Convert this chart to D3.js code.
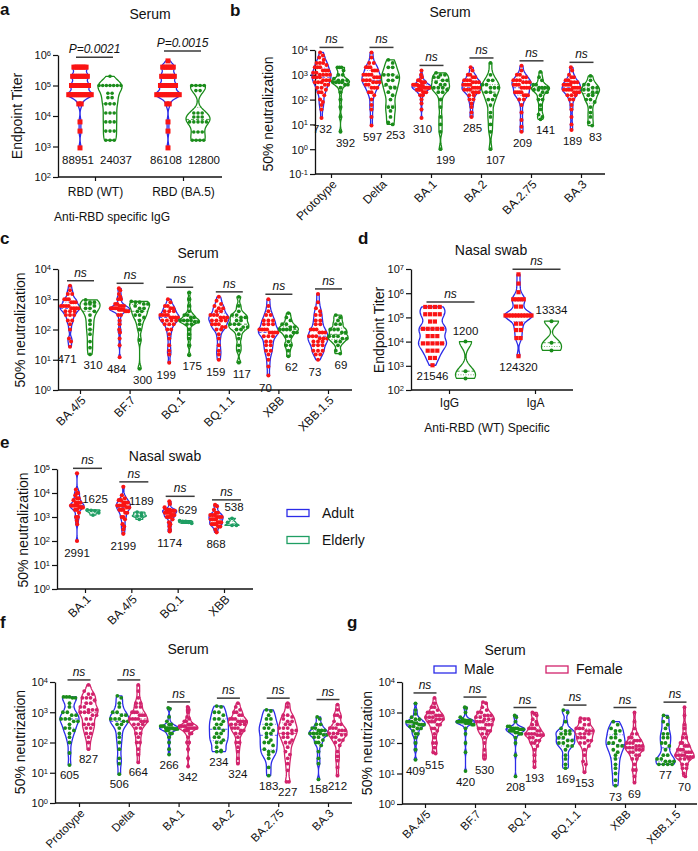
<!DOCTYPE html>
<html><head><meta charset="utf-8">
<script src="https://cdn.jsdelivr.net/npm/d3@7"></script>
<style>
body{margin:0;background:#fff}
svg{display:block}
text{font-family:Arial,"Liberation Sans",Helvetica,sans-serif;fill:#111}
</style>
</head><body>
<svg id="chart" width="698" height="851"></svg>
<script>
// ---------------- DATA ----------------
// Panel a: serum anti-RBD IgG endpoint titers
const aCats = ["RBD (WT)", "RBD (BA.5)"];
const aAdult = [
  [400000,400000,400000,400000,400000,400000,400000,200000,200000,200000,200000,200000,200000,200000,200000,100000,100000,100000,100000,100000,100000,100000,100000,100000,50000,50000,50000,50000,50000,50000,50000,50000,50000,50000,50000,50000,25000,25000,6400,3200,900],
  [640000,400000,400000,400000,400000,400000,400000,200000,200000,200000,200000,200000,200000,200000,100000,100000,100000,100000,100000,100000,100000,100000,50000,50000,50000,50000,50000,50000,50000,50000,50000,50000,50000,50000,25000,25000,6400,3200,900]
];
const aElderly = [
  [200000,100000,100000,100000,100000,100000,100000,100000,56000,56000,40000,40000,25000,25000,25000,12500,12500,12500,6400,6400,6400,3200,3200,3200,1600,1600,1600],
  [100000,100000,100000,100000,68000,68000,12500,12500,12500,9300,9300,9300,6400,6400,6400,6400,6400,3000,3000,3000,1600,1600,1600,1600]
];
const aLabels = [["88951","24037"],["86108","12800"]];
const aSig = ["P=0.0021","P=0.0015"];

// Panel b: serum 50% neutralization, adult vs elderly
const bCats = ["Prototype","Delta","BA.1","BA.2","BA.2.75","BA.3"];
const bAdult = [
  [8000,6000,5000,4000,3000,3000,3000,2500,2000,2000,2000,1500,1500,1500,1200,1200,1000,1000,1000,1000,800,800,800,600,600,600,500,500,500,400,400,300,300,250,200,200,150,100,80,60,40,18],
  [8000,5000,3000,3000,2000,2000,2000,1500,1500,1500,1000,1000,1000,1000,800,800,800,600,600,600,500,500,500,400,400,300,300,300,200,200,150,100,60,40,20,9],
  [1500,1000,800,600,600,500,500,500,400,400,400,400,350,350,350,350,300,300,300,300,300,250,250,250,250,200,200,200,150,150,100,70,40,18],
  [2000,1500,1000,1000,800,800,600,600,600,500,500,500,400,400,400,400,300,300,300,300,250,250,250,200,200,200,150,150,100,100,70,50,30,20],
  [2300,1500,1000,1000,800,800,600,600,600,500,500,500,400,400,400,300,300,300,300,200,200,200,200,150,150,150,100,100,60,30,15,8,5],
  [2000,1500,1000,800,800,600,600,500,500,500,400,400,400,400,300,300,300,300,250,250,250,250,200,200,200,150,150,150,100,100,60,40,20,10,6]
];
const bElderly = [
  [2000,2000,2000,1500,1000,1000,700,600,600,600,500,500,500,500,400,400,300,200,100,50,20,5],
  [4000,3000,2000,2000,1000,1000,1000,800,600,600,400,300,300,200,150,100,50,50,35,20,12,10],
  [1200,1000,1000,800,800,600,600,500,400,400,300,300,300,250,200,200,100,50,20,10,5,1],
  [3000,1000,600,600,400,400,300,300,300,200,200,150,100,100,60,30,20,10,5,1],
  [1300,800,600,400,400,300,300,300,300,250,250,200,200,150,100,100,60,40,25,20,16],
  [900,600,400,400,300,300,250,250,200,200,150,150,100,100,80,50,30,20,12,9]
];
const bLabels = [["732","392"],["597","253"],["310","199"],["285","107"],["209","141"],["189","83"]];

// Panel c
const cCats = ["BA.4/5","BF.7","BQ.1","BQ.1.1","XBB","XBB.1.5"];
const cAdult = [
  [2800,2000,1500,1500,1000,1000,1000,800,800,800,600,600,600,600,500,500,500,500,400,400,400,300,300,300,200,200,150,100,50,40,27],
  [2300,2000,1500,1200,1000,1000,700,700,600,600,600,500,500,500,500,500,450,450,450,450,400,400,400,300,300,200,150,100,80,50,30,12],
  [1000,800,600,600,500,500,400,400,400,300,300,300,300,250,250,250,250,200,200,200,200,150,150,150,100,100,70,50,30,20,15,8],
  [1200,900,700,600,500,500,400,400,300,300,300,250,250,250,200,200,200,200,150,150,150,120,120,100,100,70,50,30,20,15,10],
  [1000,600,400,300,300,200,200,200,150,150,150,100,100,100,100,80,80,80,80,60,60,60,40,40,30,30,20,20,15,10,6,3],
  [1500,800,500,400,300,300,200,200,150,150,100,100,100,80,80,80,60,60,60,50,50,50,40,40,40,30,30,30,20,20,20,15,15,10]
];
const cElderly = [
  [950,800,800,700,700,600,500,500,400,300,200,150,100,70,40,25,15],
  [850,800,800,700,700,600,500,500,400,400,300,300,250,200,150,100,45,5],
  [1700,1000,600,400,300,300,250,250,200,200,200,200,180,180,150,150,100,70,50,30,14],
  [1200,600,400,300,300,250,250,200,200,150,150,150,120,120,100,100,70,50,30,20,8],
  [350,250,200,150,150,120,120,100,100,100,100,80,80,60,60,40,30,30,20,13],
  [300,250,200,150,150,100,100,100,80,80,60,60,60,50,50,40,40,30,20,16]
];
const cLabels = [["471","310"],["484","300"],["199","175"],["159","117"],["70","62"],["73","69"]];

// Panel d: nasal swab anti-RBD endpoint titers
const dCats = ["IgG","IgA"];
const dAdult = [
  [270000,270000,270000,270000,135000,135000,135000,135000,67500,67500,33750,33750,33750,33750,33750,16875,16875,16875,8437,8437,8437,8437,8437,4218,4218,4218,2109,2109,1054],
  [6000000,2500000,1100000,560000,560000,560000,560000,280000,280000,120000,120000,120000,120000,120000,120000,120000,120000,120000,120000,55000,55000,30000,30000,14000,14000,2500]
];
const dElderly = [[10000,600,300],[70000,9000,4300]];
const dLabels = [["21546","1200"],["124320","13334"]];

// Panel e: nasal swab neutralization
const eCats = ["BA.1","BA.4/5","BQ.1","XBB"];
const eAdult = [
  [66000,14000,10000,10000,8000,6000,6000,5000,4000,4000,4000,3000,3000,3000,3000,3000,2500,2500,2500,2000,2000,1500,1000,1000,700,500,100],
  [18000,8000,6000,5000,5000,4000,4000,4000,3000,3000,3000,3000,2500,2500,2000,2000,2000,1500,1500,1000,1000,800,500,400,300,200],
  [4500,3500,2500,2000,2000,2000,1800,1800,1800,1500,1500,1500,1500,1200,1200,1200,1000,1000,1000,800,600,500,400,300,250],
  [3200,2800,2000,1500,1500,1200,1200,1200,1000,1000,1000,800,800,800,800,600,600,600,500,500,500,400,400,300,230]
];
const eElderly = [[2000,1900,1800,1500,1200],[1600,1400,1100,1100,800],[700,650,650,600,550],[880,600,450,450]];
const eLabels = [["2991","1625"],["2199","1189"],["1174","629"],["868","538"]];
const eLegend = ["Adult","Elderly"];

// Panel f: serum, male vs female
const fCats = ["Prototype","Delta","BA.1","BA.2","BA.2.75","BA.3"];
const fMale = [
  [3200,3200,3200,3000,3000,2000,1500,1000,1000,800,800,600,600,600,500,500,400,300,300,250,200,150,100,45,18],
  [3500,3000,2000,1500,1000,1000,800,800,600,600,600,500,500,400,400,300,200,150,100,60,30,20,9],
  [1400,1300,700,500,400,400,350,350,350,300,300,300,300,300,280,280,280,250,250,200,200,150,100,60,40],
  [1600,1500,1000,1000,800,600,600,500,400,400,300,300,250,200,200,150,150,120,100,100,70,55,50,50],
  [1200,1100,800,600,600,400,400,300,300,250,200,200,150,120,100,100,80,60,50,50,40,30,15,8],
  [700,600,400,400,300,300,250,250,250,200,200,200,200,180,180,150,150,120,100,100,80,50,30,20,6]
];
const fFemale = [
  [8000,5000,4000,4000,3000,3000,3000,2500,2000,2000,1500,1500,1200,1200,1200,1000,1000,1000,800,800,600,600,400,400,400,300,300,200,200,150,100,60],
  [8000,5000,3000,2000,2000,1500,1500,1000,1000,1000,800,800,800,600,600,600,600,500,500,500,400,400,400,300,300,200,200,150,100,100,60,40,22],
  [1500,1200,1000,700,600,500,500,400,400,400,350,350,350,350,300,300,300,300,300,300,250,250,250,200,200,150,100,100,60,30,16],
  [2000,1500,1200,1000,1000,800,800,600,600,600,500,500,500,500,400,400,400,400,300,300,300,250,250,200,200,150,100,100,70,50,30,20],
  [2000,1500,800,800,700,600,500,500,400,400,300,300,300,250,250,200,200,200,150,150,120,100,100,70,50,40,30,20,12,5,5],
  [1800,1200,800,800,700,500,400,400,300,300,300,250,250,250,200,200,200,180,180,150,150,120,120,100,80,50,35,25,15,8]
];
const fLabels = [["605","827"],["506","664"],["266","342"],["234","324"],["183","227"],["158","212"]];

// Panel g
const gCats = ["BA.4/5","BF.7","BQ.1","BQ.1.1","XBB","XBB.1.5"];
const gMale = [
  [2000,1200,900,700,600,600,500,500,500,450,450,400,400,400,350,350,300,300,250,200,200,150,100,60,28],
  [1500,1400,1000,700,600,550,550,550,500,500,500,500,500,450,450,450,450,400,400,300,200,100,50,12],
  [800,700,500,350,350,300,300,300,300,280,280,280,250,250,250,220,220,200,200,150,100,40,8],
  [1200,1000,500,300,250,250,200,200,200,150,150,120,120,100,100,80,80,60,40,30,20,15],
  [500,400,300,250,250,200,150,150,120,100,100,80,80,60,50,40,30,20,15,10,6,4],
  [800,700,500,400,300,200,200,150,150,100,100,80,60,40,40,30,30,25,25,25,20,20,20,20]
];
const gFemale = [
  [3000,2000,1500,1500,1200,1000,1000,1000,800,800,800,700,700,700,600,600,600,500,500,500,400,400,300,300,250,200,150,100,100,70,50,45],
  [2200,2000,1500,1200,1000,1000,800,800,800,700,700,600,600,600,500,500,500,400,400,400,300,300,300,250,250,200,200,150,100,60,40,30],
  [1000,900,800,600,500,400,400,300,300,300,250,250,200,200,200,200,180,180,180,150,150,120,120,100,100,80,60,40,25,16],
  [650,600,600,500,400,400,300,300,300,250,250,250,200,200,200,150,150,150,120,120,100,100,80,60,40,25,20,11],
  [1000,500,300,200,200,150,150,120,120,120,100,100,100,80,80,80,70,70,70,60,60,60,50,50,40,40,30,30,20,13,13,8,5],
  [1500,800,400,300,200,150,150,100,100,80,80,80,60,60,60,50,50,50,40,40,40,40,35,35,35,30,30,30,20,20,15,15,10,8]
];
const gLabels = [["409","515"],["420","530"],["208","193"],["169","153"],["73","69"],["77","70"]];
const gLegend = ["Male","Female"];

// ---------------- STYLE ----------------
const BLUE = "#2b2be8", RED = "#fa1414", GREEN = "#1a8c1a", MAG = "#d2236c", TEAL = "#1f9e63", BAR = "#3a3a3a";
const svg = d3.select("#chart");

function kde(L, h) {
  return v => d3.sum(L, l => Math.exp(-0.5 * ((v - l) / h) ** 2));
}

function drawViolin(g, vals, cx, y, s) {
  const L = vals.map(Math.log10);
  const sorted = L.slice().sort(d3.ascending);
  const lo = sorted[0], hi = sorted[sorted.length - 1];
  const n = L.length;
  const sd = d3.deviation(L) || 0.2;
  const iqr = d3.quantile(sorted, 0.75) - d3.quantile(sorted, 0.25);
  let h = 0.9 * Math.min(sd, iqr > 0 ? iqr / 1.34 : sd) * Math.pow(n, -0.2) * s.bw;
  h = Math.max(h, s.bwMin);
  const f = kde(L, h);
  const N = 80;
  const grid = d3.range(N + 1).map(i => lo + (hi - lo) * i / N);
  const dens = grid.map(f);
  const mx = d3.max(dens);
  const wAt = v => f(v) / mx * s.hw;
  const area = d3.area()
    .y(d => y(10 ** d))
    .x0(d => cx - wAt(d))
    .x1(d => cx + wAt(d))
    .curve(d3.curveLinear);
  g.append("path").attr("d", area(grid) + "Z")
    .attr("fill", "none").attr("stroke", s.stroke).attr("stroke-width", 1.3)
    .attr("stroke-linejoin", "round");
  // median & quartiles
  const med = d3.quantile(sorted, 0.5), q1 = d3.quantile(sorted, 0.25), q3 = d3.quantile(sorted, 0.75);
  [[med, "3,2", 1], [q1, "1,1.5", 0.8], [q3, "1,1.5", 0.8]].forEach(([q, da, sw]) => {
    const w = wAt(q);
    g.append("line").attr("x1", cx - w).attr("x2", cx + w).attr("y1", y(10 ** q)).attr("y2", y(10 ** q))
      .attr("stroke", s.stroke).attr("stroke-width", sw).attr("stroke-dasharray", da).attr("opacity", 0.8);
  });
  // points: group by pixel row, spread within violin width
  const items = vals.map(v => ({ v, py: y(v) })).sort((a, b) => a.py - b.py);
  const groups = [];
  items.forEach(it => {
    const last = groups[groups.length - 1];
    if (last && it.py - last[0].py < s.r * 1.7) last.push(it); else groups.push([it]);
  });
  const r = s.r;
  groups.forEach(gr => {
    const m = gr.length;
    const my = d3.mean(gr, d => d.py);
    const w = wAt(Math.log10(y.invert(my)));
    const avail = Math.max(0, 2 * (w - r * 0.5));
    const step = m > 1 ? Math.min(2 * r + 0.6, avail / (m - 1)) : 0;
    gr.forEach((it, k) => {
      const px = cx + (k - (m - 1) / 2) * step;
      if (s.square) {
        g.append("rect").attr("x", px - r).attr("y", it.py - r).attr("width", 2 * r).attr("height", 2 * r).attr("fill", s.pt);
      } else {
        g.append("circle").attr("cx", px).attr("cy", it.py).attr("r", r).attr("fill", s.pt);
      }
    });
  });
  return { lo, hi };
}

function drawPanel(cfg) {
  const g = svg.append("g");
  const y = d3.scaleLog().domain([10 ** cfg.yLo, 10 ** cfg.yHi]).range([cfg.yBot, cfg.yTop]);
  const xc = d3.scalePoint().domain(cfg.cats).range(cfg.catRange);
  const xs = d3.scalePoint().domain([0, 1]).range([-cfg.off, cfg.off]);

  // y axis
  const decades = d3.range(cfg.yLo, cfg.yHi + 1).map(e => 10 ** e);
  const ya = g.append("g").attr("transform", `translate(${cfg.ax},0)`)
    .call(d3.axisLeft(y).tickValues(decades).tickSize(5).tickSizeOuter(0).tickFormat(""));
  ya.select(".domain").attr("stroke", "#111").attr("stroke-width", 1.3);
  ya.selectAll(".tick line").attr("stroke", "#111").attr("stroke-width", 1.2);
  ya.selectAll(".tick").each(function (d) {
    const e = Math.round(Math.log10(d));
    const t = d3.select(this).append("text").attr("x", -7).attr("dy", "0.36em")
      .attr("text-anchor", "end").style("font-size", "11px").style("fill", "#111");
    t.append("tspan").text("10");
    t.append("tspan").attr("dy", "-0.45em").style("font-size", "7.5px").text(e);
  });
  // x baseline
  g.append("line").attr("x1", cfg.ax).attr("x2", cfg.xEnd).attr("y1", cfg.yBot).attr("y2", cfg.yBot)
    .attr("stroke", "#111").attr("stroke-width", 1.3);
  const xa = g.append("g").attr("transform", `translate(0,${cfg.yBot})`)
    .call(d3.axisBottom(xc).tickSize(4).tickSizeOuter(0));
  xa.select(".domain").remove();
  xa.selectAll(".tick line").attr("stroke", "#111").attr("stroke-width", 1.2);
  const xt = xa.selectAll(".tick text").style("font-size", cfg.xFont || "12px").style("fill", "#111");
  if (cfg.rotate) {
    xt.attr("x", 0).attr("y", 0).attr("dy", "0.35em")
      .attr("transform", "translate(3,8) rotate(-45)").style("text-anchor", "end");
  } else {
    xt.attr("y", cfg.catLabelDy).attr("dy", "0.35em");
  }

  // y title
  g.append("text").attr("transform", `translate(${cfg.ytX},${cfg.ytY}) rotate(-90)`)
    .attr("text-anchor", "middle").attr("dy", "0.35em").style("font-size", "14px").text(cfg.yTitle);
  // panel title
  g.append("text").attr("x", cfg.titleX).attr("y", cfg.titleY).attr("text-anchor", "middle")
    .attr("dy", "0.35em").style("font-size", "14px").text(cfg.title);
  // letter
  g.append("text").attr("x", cfg.letterX).attr("y", cfg.letterY).attr("dy", "0.35em")
    .style("font-size", "17px").style("font-weight", "bold").text(cfg.letter);

  // violins
  const ext = cfg.cats.map(() => []);
  cfg.series.forEach((s, si) => {
    s.data.forEach((vals, ci) => {
      ext[ci][si] = drawViolin(g, vals, xc(cfg.cats[ci]) + xs(si), y, s);
    });
  });

  // value labels
  cfg.cats.forEach((c, ci) => {
    cfg.series.forEach((s, si) => {
      const e = ext[ci][si];
      let ly;
      if (cfg.labelCommon) ly = Math.max(y(10 ** ext[ci][0].lo), y(10 ** ext[ci][1].lo)) + cfg.labelCommon;
      else if (s.labelAbove) ly = y(10 ** e.hi) - s.labelGap;
      else ly = y(10 ** e.lo) + s.labelGap;
      g.append("text").attr("x", xc(c) + xs(si) + s.labelDx).attr("y", ly).attr("dy", "0.35em")
        .attr("text-anchor", "middle").style("font-size", "11.5px").text(cfg.labels[ci][si]);
    });
    // significance bar
    const top = Math.min(y(10 ** ext[ci][0].hi), y(10 ** ext[ci][1].hi)) - cfg.sigGap;
    const x1 = xc(c) + xs(0) + cfg.barL, x2 = xc(c) + xs(1) + cfg.barR;
    g.append("line").attr("x1", x1).attr("x2", x2).attr("y1", top).attr("y2", top)
      .attr("stroke", BAR).attr("stroke-width", 1.5);
    g.append("text").attr("x", (x1 + x2) / 2).attr("y", top - 4).attr("text-anchor", "middle")
      .style("font-size", cfg.sigSize || "12px").style("font-style", "italic")
      .text(cfg.sig ? cfg.sig[ci] : "ns");
  });
  return { g, y, xc };
}

function ser(data, stroke, pt, hw, r, extra) {
  return Object.assign({ data, stroke, pt, hw, r, bw: 0.6, bwMin: 0.06, labelDx: 0, labelGap: 11, square: false }, extra || {});
}

// ---------------- PANELS ----------------
const pa = drawPanel({
  letter: "a", letterX: 0, letterY: 9, title: "Serum", titleX: 150, titleY: 14,
  cats: aCats, catRange: [95, 183], off: 15, ax: 58, xEnd: 222,
  yLo: 2, yHi: 6, yBot: 177, yTop: 55, rotate: false, catLabelDy: 15,
  yTitle: "Endpoint Titer", ytX: 17, ytY: 116,
  series: [ser(aAdult, BLUE, RED, 12.5, 2.5, { square: true, labelDx: -2 }),
           ser(aElderly, GREEN, GREEN, 12, 1.8, { labelDx: 6 })],
  labels: aLabels, labelCommon: 12, sig: aSig, sigGap: 10, barL: -4, barR: 3, sigSize: "12px"
});
pa.g.append("text").attr("x", 112).attr("y", 217).attr("text-anchor", "middle").attr("dy", "0.35em")
  .style("font-size", "12px").text("Anti-RBD specific IgG");

drawPanel({
  letter: "b", letterX: 230, letterY: 10, title: "Serum", titleX: 450, titleY: 12,
  cats: bCats, catRange: [331, 581], off: 9.5, ax: 315, xEnd: 605,
  yLo: -1, yHi: 4, yBot: 174, yTop: 50, rotate: true,
  yTitle: "50% neutralization", ytX: 268, ytY: 114,
  series: [ser(bAdult, BLUE, RED, 9.5, 2, { labelDx: 1 }), ser(bElderly, GREEN, GREEN, 9, 1.9, { labelDx: 5 })],
  labels: bLabels, sigGap: 5, barL: -2, barR: 3
});

drawPanel({
  letter: "c", letterX: 0, letterY: 238, title: "Serum", titleX: 198, titleY: 253,
  cats: cCats, catRange: [80, 328], off: 10, ax: 58, xEnd: 352,
  yLo: 0, yHi: 4, yBot: 390, yTop: 269, rotate: true,
  yTitle: "50% neutralization", ytX: 20, ytY: 330,
  series: [ser(cAdult, BLUE, RED, 10, 2, { labelDx: -3, labelGap: 12 }), ser(cElderly, GREEN, GREEN, 10, 1.9, { labelDx: 3 })],
  labels: cLabels, sigGap: 5, barL: -3, barR: 4
});

const pd = drawPanel({
  letter: "d", letterX: 358, letterY: 238, title: "Nasal swab", titleX: 491, titleY: 250,
  cats: dCats, catRange: [449, 535], off: 16.5, ax: 411, xEnd: 573,
  yLo: 2, yHi: 7, yBot: 390, yTop: 269, rotate: false, catLabelDy: 13,
  yTitle: "Endpoint Titer", ytX: 379, ytY: 330,
  series: [ser(dAdult, BLUE, RED, 14, 2.1, { square: true }),
           ser(dElderly, GREEN, GREEN, 10, 2, { labelAbove: true, labelGap: 11, bw: 0.6 })],
  labels: dLabels, sigGap: 5, barL: -6, barR: 9
});
pd.g.append("text").attr("x", 487).attr("y", 428).attr("text-anchor", "middle").attr("dy", "0.35em")
  .style("font-size", "12px").text("Anti-RBD (WT) Specific");

const pe = drawPanel({
  letter: "e", letterX: 0, letterY: 442, title: "Nasal swab", titleX: 165, titleY: 456,
  cats: eCats, catRange: [85, 224], off: 8, ax: 57, xEnd: 253,
  yLo: 0, yHi: 5, yBot: 589, yTop: 469, rotate: true,
  yTitle: "50% neutralization", ytX: 23, ytY: 530,
  series: [ser(eAdult, BLUE, RED, 7, 2.1, { labelGap: 12 }),
           ser(eElderly, TEAL, TEAL, 7, 1.9, { labelAbove: true, labelGap: 11, labelDx: 2, bwMin: 0.05 })],
  labels: eLabels, sigGap: 5, barL: -4, barR: 9
});
// legend e
eLegend.forEach((name, i) => {
  const col = i === 0 ? BLUE : TEAL;
  pe.g.append("rect").attr("x", 287).attr("y", 509.5 + i * 27).attr("width", 22).attr("height", 7)
    .attr("fill", "none").attr("stroke", col).attr("stroke-width", 1.3);
  pe.g.append("text").attr("x", 322).attr("y", 513 + i * 27).attr("dy", "0.35em")
    .style("font-size", "14px").text(name);
});

drawPanel({
  letter: "f", letterX: 0, letterY: 622, title: "Serum", titleX: 188, titleY: 649,
  cats: fCats, catRange: [79, 328], off: 9.5, ax: 55, xEnd: 352,
  yLo: 0, yHi: 4, yBot: 803, yTop: 682, rotate: true, xFont: "11.5px",
  yTitle: "50% neutrization", ytX: 20, ytY: 742,
  series: [ser(fMale, BLUE, GREEN, 9.5, 1.9, { labelGap: 10 }), ser(fFemale, MAG, MAG, 9.5, 1.9, { labelGap: 10 })],
  labels: fLabels, sigGap: 5, barL: -2, barR: 2
});

const pg = drawPanel({
  letter: "g", letterX: 347, letterY: 622, title: "Serum", titleX: 505, titleY: 650,
  cats: gCats, catRange: [425, 675], off: 9.5, ax: 402, xEnd: 697,
  yLo: 0, yHi: 4, yBot: 804, yTop: 682, rotate: true, xFont: "11.5px",
  yTitle: "50% neutrization", ytX: 367, ytY: 743,
  series: [ser(gMale, BLUE, GREEN, 9.5, 1.9, { labelGap: 11 }), ser(gFemale, MAG, MAG, 9.5, 1.9, { labelGap: 11 })],
  labels: gLabels, sigGap: 5, barL: -2, barR: 2
});
// legend g
gLegend.forEach((name, i) => {
  const col = i === 0 ? BLUE : MAG;
  const x0 = 434 + i * 112;
  pg.g.append("rect").attr("x", x0).attr("y", 666).attr("width", 22).attr("height", 7)
    .attr("fill", "none").attr("stroke", col).attr("stroke-width", 1.3);
  pg.g.append("text").attr("x", x0 + 30).attr("y", 669.5).attr("dy", "0.35em")
    .style("font-size", "14px").text(name);
});
</script>
</body></html>
